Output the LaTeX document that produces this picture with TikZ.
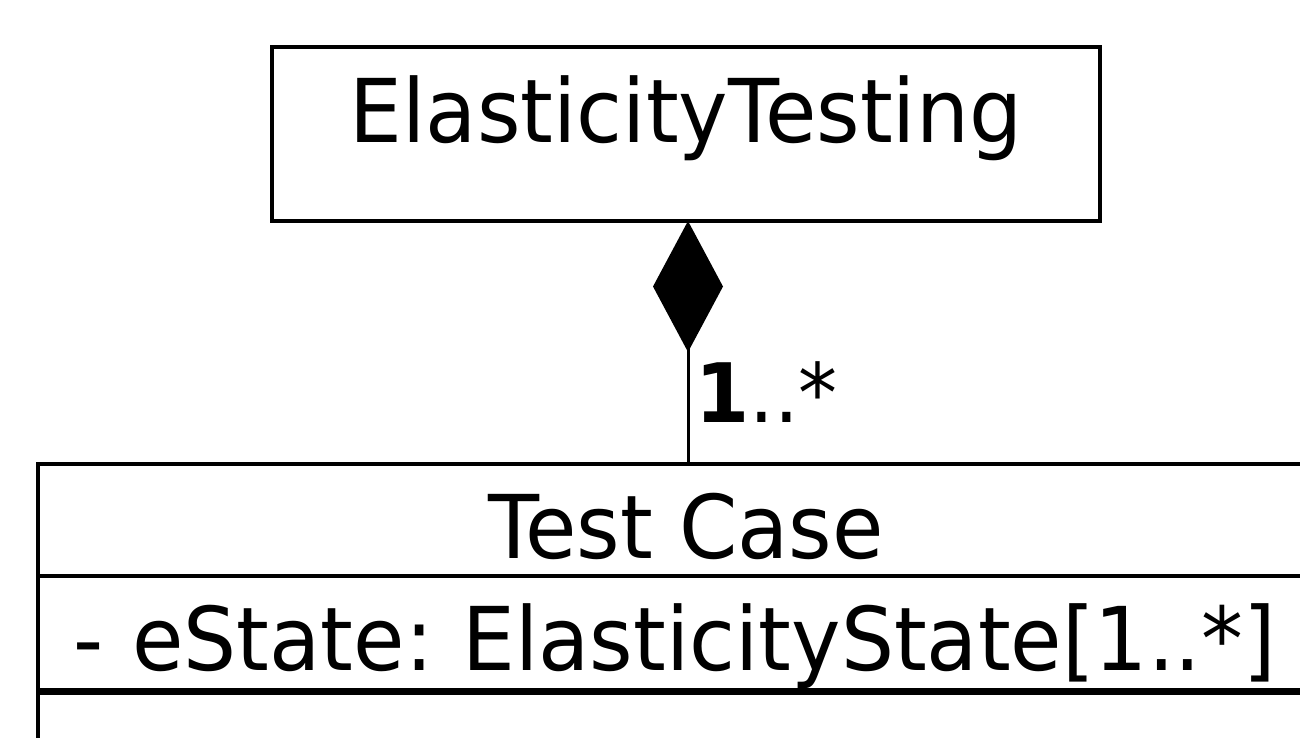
\documentclass[tikz,border=0pt]{standalone}
\usepackage{fontspec}
\setmainfont{DejaVu Sans}[FakeStretch=0.95]
\usetikzlibrary{arrows.meta}
\frenchspacing

\begin{document}
\begin{tikzpicture}[x=1pt, y=-1pt,
    classbox/.style={draw, line width=3.5pt, inner sep=0pt, outer sep=0pt,
      font=\fontsize{88}{100}\selectfont},
    multlabel/.style={anchor=base west, inner sep=0pt,
      font=\fontsize{82}{90}\selectfont}]
  \useasboundingbox (0,0) rectangle (1300,737);
  \clip (0,0) rectangle (1300,737);

  % Classes
  \node[classbox, minimum width=828pt, minimum height=174pt,
    text height=67pt, text depth=51pt] (testing) at (686,134) {ElasticityTesting};
  \node[classbox, minimum width=1296pt, minimum height=112pt,
    text height=76pt, text depth=0pt] (case) at (686,520) {Test Case};
  \node[classbox, minimum width=1296pt, minimum height=115pt,
    text height=73pt, text depth=0pt, text width=1226pt, align=left]
    (estate) at (686,633.5) {- eState: ElasticityState[1..*]};
  \node[classbox, minimum width=1296pt, minimum height=120pt] (ops) at (686,751) {};
  \draw[line width=7pt] (estate.south west) -- (estate.south east);

  % Composition
  \draw[line width=3pt, {Diamond[length=131pt, width=70pt]}-]
    ([xshift=2pt]testing.south) -- ([xshift=2pt]case.north);
  \node[multlabel] (mult) at (695,422) {\textbf{1}..*};
\end{tikzpicture}
\end{document}
